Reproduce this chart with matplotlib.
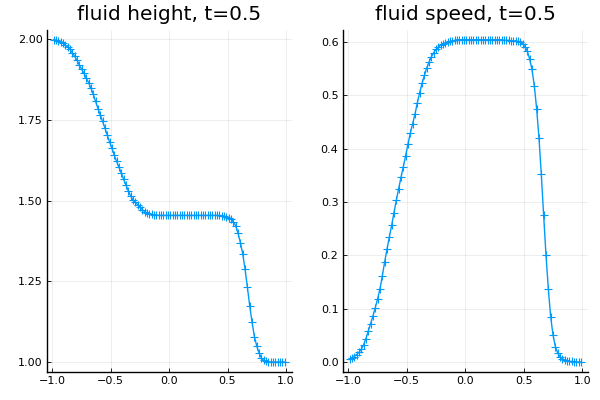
import numpy as np
import matplotlib
matplotlib.use("Agg")
import matplotlib.pyplot as plt

# cell centres on [-1, 1], 100 cells
x = np.arange(100) * 0.02 - 0.99

height = [
    1.998, 1.997, 1.995, 1.992, 1.988, 1.982, 1.976, 1.968, 1.958, 1.947,
    1.934, 1.920, 1.907, 1.894, 1.879, 1.865, 1.848, 1.829, 1.807, 1.785,
    1.765, 1.745, 1.724, 1.702, 1.681, 1.662, 1.640, 1.621, 1.603, 1.585,
    1.566, 1.548, 1.530, 1.514, 1.502, 1.495, 1.487, 1.479, 1.472, 1.466,
    1.462, 1.459, 1.457, 1.456, 1.455, 1.454, 1.454,
    1.454, 1.454, 1.454, 1.454, 1.454, 1.454, 1.454, 1.454, 1.454, 1.454,
    1.454, 1.454, 1.454, 1.454, 1.454, 1.454, 1.454, 1.454, 1.454, 1.454,
    1.454, 1.454, 1.454, 1.454, 1.454,
    1.453, 1.452, 1.450, 1.447, 1.442, 1.434, 1.422, 1.399, 1.370, 1.335,
    1.288, 1.232, 1.174, 1.123, 1.079, 1.050, 1.028, 1.012, 1.005, 1.002,
    1.001, 1.000, 1.000, 1.000, 1.000, 1.000, 1.000, 1.000,
]

speed = [
    0.005, 0.007, 0.010, 0.014, 0.018, 0.024, 0.032, 0.044, 0.058, 0.072,
    0.086, 0.102, 0.118, 0.137, 0.161, 0.187, 0.211, 0.234, 0.256, 0.280,
    0.303, 0.325, 0.346, 0.366, 0.387, 0.409, 0.429, 0.447, 0.465, 0.486,
    0.505, 0.522, 0.537, 0.551, 0.562, 0.572, 0.580, 0.586, 0.590, 0.594,
    0.596, 0.598, 0.600, 0.601, 0.602, 0.603, 0.604,
    0.604, 0.604, 0.604, 0.604, 0.604, 0.604, 0.604, 0.604, 0.604, 0.604,
    0.604, 0.604, 0.604, 0.604, 0.604, 0.604, 0.604, 0.604,
    0.604, 0.603, 0.603, 0.603, 0.602, 0.602,
    0.602, 0.601, 0.599, 0.596, 0.591, 0.583, 0.568, 0.549, 0.518, 0.475,
    0.420, 0.352, 0.275, 0.201, 0.137, 0.085, 0.051, 0.029, 0.017, 0.010,
    0.006, 0.004, 0.002, 0.001, 0.001, 0.000, 0.000, 0.000, 0.000,
]

titles = ["fluid height, t=0.5", "fluid speed, t=0.5"]
yticks = [[1.00, 1.25, 1.50, 1.75, 2.00], [0.0, 0.1, 0.2, 0.3, 0.4, 0.5, 0.6]]
yfmt = ["{:.2f}", "{:.1f}"]
xticks = [-1.0, -0.5, 0.0, 0.5, 1.0]

blue = "#009AFA"

fig = plt.figure(figsize=(6, 4), dpi=100)
ax1 = fig.add_axes([0.0778, 0.0708, 0.4083, 0.854])
ax2 = fig.add_axes([0.571, 0.0708, 0.409, 0.854])

for ax, y, title, yt, fmt in zip([ax1, ax2], [height, speed], titles, yticks, yfmt):
    ax.plot(x, y, color=blue, lw=1.0, marker="+", ms=6, mew=0.8)
    ax.margins(0.03)
    ax.set_title(title, fontsize=14.5, pad=7)
    ax.set_xticks(xticks)
    ax.set_xticklabels(["{:.1f}".format(t).replace("-", "\u2212") for t in xticks])
    ax.set_yticks(yt)
    ax.set_yticklabels([fmt.format(t) for t in yt])
    ax.grid(True, color="black", alpha=0.08, lw=0.6)
    for s in ["top", "right"]:
        ax.spines[s].set_visible(False)
    for s in ["left", "bottom"]:
        ax.spines[s].set_linewidth(1.0)
    ax.tick_params(direction="in", length=3, width=0.6, labelsize=8, pad=3)

fig.savefig("out.png", dpi=100)
